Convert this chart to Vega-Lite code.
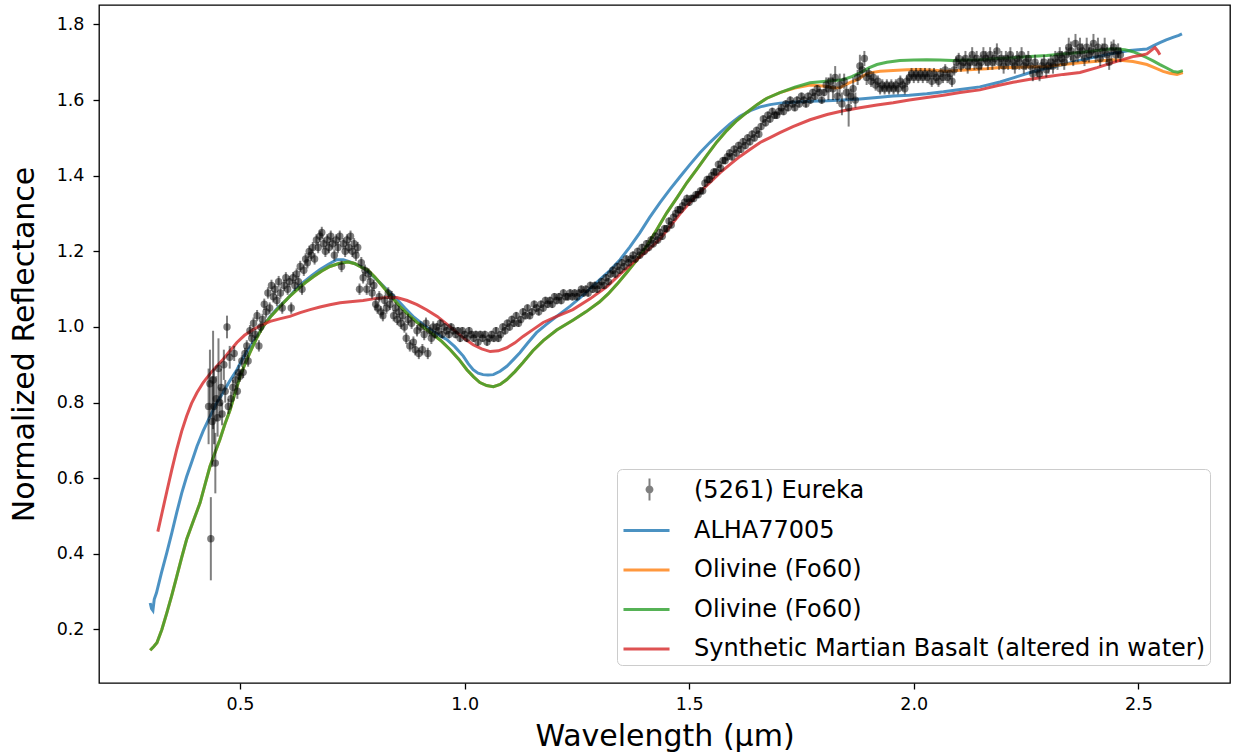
{
  "$schema": "https://vega.github.io/schema/vega-lite/v6.json",
  "width": 1131,
  "height": 678,
  "autosize": {"type": "none"},
  "padding": {"left": 99, "top": 5, "right": 3, "bottom": 72},
  "background": "white",
  "config": {
    "font": "DejaVu Sans",
    "view": {"stroke": "black", "strokeWidth": 1.3},
    "axis": {
      "grid": false,
      "domain": false,
      "tickColor": "black",
      "tickWidth": 1.3,
      "tickSize": 6,
      "labelColor": "black",
      "labelFont": "DejaVu Sans",
      "labelFontSize": 17.5,
      "titleFont": "DejaVu Sans",
      "titleFontSize": 30,
      "titleFontWeight": "normal",
      "titleColor": "black"
    }
  },
  "datasets": {
    "lines": [
      {"s":"ALHA","w":0.300,"r":0.270},{"s":"ALHA","w":0.303,"r":0.255},{"s":"ALHA","w":0.306,"r":0.250},{"s":"ALHA","w":0.309,"r":0.280},{"s":"ALHA","w":0.314,"r":0.297},{"s":"ALHA","w":0.325,"r":0.350},{"s":"ALHA","w":0.337,"r":0.403},{"s":"ALHA","w":0.348,"r":0.455},{"s":"ALHA","w":0.359,"r":0.509},{"s":"ALHA","w":0.370,"r":0.560},{"s":"ALHA","w":0.381,"r":0.604},{"s":"ALHA","w":0.393,"r":0.645},{"s":"ALHA","w":0.404,"r":0.684},{"s":"ALHA","w":0.418,"r":0.725},{"s":"ALHA","w":0.433,"r":0.763},{"s":"ALHA","w":0.447,"r":0.797},{"s":"ALHA","w":0.462,"r":0.826},{"s":"ALHA","w":0.477,"r":0.857},{"s":"ALHA","w":0.493,"r":0.887},{"s":"ALHA","w":0.510,"r":0.925},{"s":"ALHA","w":0.529,"r":0.959},{"s":"ALHA","w":0.548,"r":0.995},{"s":"ALHA","w":0.567,"r":1.028},{"s":"ALHA","w":0.585,"r":1.052},{"s":"ALHA","w":0.604,"r":1.073},{"s":"ALHA","w":0.622,"r":1.097},{"s":"ALHA","w":0.640,"r":1.117},{"s":"ALHA","w":0.660,"r":1.136},{"s":"ALHA","w":0.678,"r":1.152},{"s":"ALHA","w":0.697,"r":1.166},{"s":"ALHA","w":0.715,"r":1.178},{"s":"ALHA","w":0.730,"r":1.178},{"s":"ALHA","w":0.745,"r":1.172},{"s":"ALHA","w":0.760,"r":1.165},{"s":"ALHA","w":0.774,"r":1.157},{"s":"ALHA","w":0.793,"r":1.138},{"s":"ALHA","w":0.812,"r":1.117},{"s":"ALHA","w":0.830,"r":1.095},{"s":"ALHA","w":0.849,"r":1.073},{"s":"ALHA","w":0.867,"r":1.050},{"s":"ALHA","w":0.885,"r":1.028},{"s":"ALHA","w":0.904,"r":1.010},{"s":"ALHA","w":0.923,"r":0.993},{"s":"ALHA","w":0.941,"r":0.980},{"s":"ALHA","w":0.960,"r":0.967},{"s":"ALHA","w":0.978,"r":0.948},{"s":"ALHA","w":0.997,"r":0.923},{"s":"ALHA","w":1.008,"r":0.903},{"s":"ALHA","w":1.019,"r":0.887},{"s":"ALHA","w":1.030,"r":0.878},{"s":"ALHA","w":1.041,"r":0.874},{"s":"ALHA","w":1.052,"r":0.873},{"s":"ALHA","w":1.064,"r":0.874},{"s":"ALHA","w":1.079,"r":0.883},{"s":"ALHA","w":1.094,"r":0.896},{"s":"ALHA","w":1.108,"r":0.913},{"s":"ALHA","w":1.123,"r":0.932},{"s":"ALHA","w":1.140,"r":0.957},{"s":"ALHA","w":1.160,"r":0.985},{"s":"ALHA","w":1.180,"r":1.005},{"s":"ALHA","w":1.205,"r":1.028},{"s":"ALHA","w":1.235,"r":1.055},{"s":"ALHA","w":1.260,"r":1.080},{"s":"ALHA","w":1.301,"r":1.125},{"s":"ALHA","w":1.324,"r":1.150},{"s":"ALHA","w":1.346,"r":1.178},{"s":"ALHA","w":1.368,"r":1.212},{"s":"ALHA","w":1.390,"r":1.249},{"s":"ALHA","w":1.412,"r":1.290},{"s":"ALHA","w":1.435,"r":1.329},{"s":"ALHA","w":1.458,"r":1.365},{"s":"ALHA","w":1.480,"r":1.398},{"s":"ALHA","w":1.502,"r":1.430},{"s":"ALHA","w":1.524,"r":1.461},{"s":"ALHA","w":1.547,"r":1.489},{"s":"ALHA","w":1.569,"r":1.514},{"s":"ALHA","w":1.591,"r":1.537},{"s":"ALHA","w":1.613,"r":1.557},{"s":"ALHA","w":1.636,"r":1.572},{"s":"ALHA","w":1.658,"r":1.582},{"s":"ALHA","w":1.680,"r":1.588},{"s":"ALHA","w":1.702,"r":1.592},{"s":"ALHA","w":1.731,"r":1.594},{"s":"ALHA","w":1.769,"r":1.597},{"s":"ALHA","w":1.807,"r":1.598},{"s":"ALHA","w":1.843,"r":1.600},{"s":"ALHA","w":1.880,"r":1.603},{"s":"ALHA","w":1.918,"r":1.607},{"s":"ALHA","w":1.954,"r":1.611},{"s":"ALHA","w":1.990,"r":1.613},{"s":"ALHA","w":2.029,"r":1.617},{"s":"ALHA","w":2.066,"r":1.622},{"s":"ALHA","w":2.103,"r":1.628},{"s":"ALHA","w":2.147,"r":1.635},{"s":"ALHA","w":2.192,"r":1.648},{"s":"ALHA","w":2.225,"r":1.660},{"s":"ALHA","w":2.259,"r":1.673},{"s":"ALHA","w":2.296,"r":1.684},{"s":"ALHA","w":2.333,"r":1.694},{"s":"ALHA","w":2.370,"r":1.705},{"s":"ALHA","w":2.408,"r":1.715},{"s":"ALHA","w":2.445,"r":1.724},{"s":"ALHA","w":2.481,"r":1.731},{"s":"ALHA","w":2.500,"r":1.733},{"s":"ALHA","w":2.519,"r":1.735},{"s":"ALHA","w":2.534,"r":1.744},{"s":"ALHA","w":2.548,"r":1.752},{"s":"ALHA","w":2.562,"r":1.759},{"s":"ALHA","w":2.577,"r":1.766},{"s":"ALHA","w":2.590,"r":1.771},{"s":"ALHA","w":2.597,"r":1.775},
      {"s":"Oliv1","w":0.300,"r":0.145},{"s":"Oliv1","w":0.308,"r":0.155},{"s":"Oliv1","w":0.315,"r":0.165},{"s":"Oliv1","w":0.326,"r":0.200},{"s":"Oliv1","w":0.337,"r":0.244},{"s":"Oliv1","w":0.348,"r":0.290},{"s":"Oliv1","w":0.359,"r":0.340},{"s":"Oliv1","w":0.370,"r":0.390},{"s":"Oliv1","w":0.381,"r":0.438},{"s":"Oliv1","w":0.396,"r":0.487},{"s":"Oliv1","w":0.411,"r":0.535},{"s":"Oliv1","w":0.422,"r":0.583},{"s":"Oliv1","w":0.433,"r":0.631},{"s":"Oliv1","w":0.444,"r":0.667},{"s":"Oliv1","w":0.455,"r":0.702},{"s":"Oliv1","w":0.466,"r":0.742},{"s":"Oliv1","w":0.478,"r":0.781},{"s":"Oliv1","w":0.489,"r":0.826},{"s":"Oliv1","w":0.500,"r":0.869},{"s":"Oliv1","w":0.511,"r":0.902},{"s":"Oliv1","w":0.522,"r":0.932},{"s":"Oliv1","w":0.536,"r":0.968},{"s":"Oliv1","w":0.551,"r":1.001},{"s":"Oliv1","w":0.570,"r":1.030},{"s":"Oliv1","w":0.589,"r":1.054},{"s":"Oliv1","w":0.608,"r":1.078},{"s":"Oliv1","w":0.627,"r":1.099},{"s":"Oliv1","w":0.645,"r":1.117},{"s":"Oliv1","w":0.663,"r":1.133},{"s":"Oliv1","w":0.682,"r":1.148},{"s":"Oliv1","w":0.700,"r":1.160},{"s":"Oliv1","w":0.720,"r":1.168},{"s":"Oliv1","w":0.740,"r":1.172},{"s":"Oliv1","w":0.755,"r":1.168},{"s":"Oliv1","w":0.770,"r":1.158},{"s":"Oliv1","w":0.785,"r":1.150},{"s":"Oliv1","w":0.800,"r":1.132},{"s":"Oliv1","w":0.818,"r":1.107},{"s":"Oliv1","w":0.837,"r":1.080},{"s":"Oliv1","w":0.856,"r":1.054},{"s":"Oliv1","w":0.875,"r":1.032},{"s":"Oliv1","w":0.894,"r":1.012},{"s":"Oliv1","w":0.912,"r":0.996},{"s":"Oliv1","w":0.930,"r":0.980},{"s":"Oliv1","w":0.949,"r":0.962},{"s":"Oliv1","w":0.968,"r":0.940},{"s":"Oliv1","w":0.987,"r":0.915},{"s":"Oliv1","w":1.005,"r":0.887},{"s":"Oliv1","w":1.020,"r":0.868},{"s":"Oliv1","w":1.034,"r":0.853},{"s":"Oliv1","w":1.049,"r":0.845},{"s":"Oliv1","w":1.064,"r":0.842},{"s":"Oliv1","w":1.079,"r":0.848},{"s":"Oliv1","w":1.094,"r":0.861},{"s":"Oliv1","w":1.112,"r":0.882},{"s":"Oliv1","w":1.130,"r":0.906},{"s":"Oliv1","w":1.152,"r":0.937},{"s":"Oliv1","w":1.175,"r":0.964},{"s":"Oliv1","w":1.205,"r":0.992},{"s":"Oliv1","w":1.241,"r":1.018},{"s":"Oliv1","w":1.270,"r":1.040},{"s":"Oliv1","w":1.300,"r":1.066},{"s":"Oliv1","w":1.320,"r":1.088},{"s":"Oliv1","w":1.340,"r":1.114},{"s":"Oliv1","w":1.361,"r":1.144},{"s":"Oliv1","w":1.384,"r":1.178},{"s":"Oliv1","w":1.406,"r":1.215},{"s":"Oliv1","w":1.428,"r":1.258},{"s":"Oliv1","w":1.450,"r":1.302},{"s":"Oliv1","w":1.473,"r":1.342},{"s":"Oliv1","w":1.495,"r":1.382},{"s":"Oliv1","w":1.518,"r":1.419},{"s":"Oliv1","w":1.540,"r":1.455},{"s":"Oliv1","w":1.562,"r":1.490},{"s":"Oliv1","w":1.584,"r":1.520},{"s":"Oliv1","w":1.606,"r":1.546},{"s":"Oliv1","w":1.629,"r":1.568},{"s":"Oliv1","w":1.651,"r":1.588},{"s":"Oliv1","w":1.673,"r":1.605},{"s":"Oliv1","w":1.702,"r":1.620},{"s":"Oliv1","w":1.735,"r":1.632},{"s":"Oliv1","w":1.769,"r":1.640},{"s":"Oliv1","w":1.790,"r":1.638},{"s":"Oliv1","w":1.807,"r":1.636},{"s":"Oliv1","w":1.822,"r":1.632},{"s":"Oliv1","w":1.836,"r":1.633},{"s":"Oliv1","w":1.855,"r":1.645},{"s":"Oliv1","w":1.874,"r":1.654},{"s":"Oliv1","w":1.890,"r":1.666},{"s":"Oliv1","w":1.902,"r":1.672},{"s":"Oliv1","w":1.925,"r":1.676},{"s":"Oliv1","w":1.954,"r":1.678},{"s":"Oliv1","w":1.985,"r":1.680},{"s":"Oliv1","w":2.014,"r":1.681},{"s":"Oliv1","w":2.045,"r":1.679},{"s":"Oliv1","w":2.074,"r":1.676},{"s":"Oliv1","w":2.103,"r":1.679},{"s":"Oliv1","w":2.132,"r":1.681},{"s":"Oliv1","w":2.162,"r":1.683},{"s":"Oliv1","w":2.192,"r":1.686},{"s":"Oliv1","w":2.221,"r":1.686},{"s":"Oliv1","w":2.259,"r":1.688},{"s":"Oliv1","w":2.296,"r":1.689},{"s":"Oliv1","w":2.333,"r":1.694},{"s":"Oliv1","w":2.370,"r":1.699},{"s":"Oliv1","w":2.408,"r":1.703},{"s":"Oliv1","w":2.443,"r":1.707},{"s":"Oliv1","w":2.465,"r":1.705},{"s":"Oliv1","w":2.488,"r":1.702},{"s":"Oliv1","w":2.504,"r":1.698},{"s":"Oliv1","w":2.519,"r":1.694},{"s":"Oliv1","w":2.537,"r":1.685},{"s":"Oliv1","w":2.555,"r":1.676},{"s":"Oliv1","w":2.570,"r":1.671},{"s":"Oliv1","w":2.586,"r":1.668},{"s":"Oliv1","w":2.599,"r":1.673},
      {"s":"Oliv2","w":0.300,"r":0.145},{"s":"Oliv2","w":0.308,"r":0.155},{"s":"Oliv2","w":0.315,"r":0.165},{"s":"Oliv2","w":0.326,"r":0.200},{"s":"Oliv2","w":0.337,"r":0.244},{"s":"Oliv2","w":0.348,"r":0.290},{"s":"Oliv2","w":0.359,"r":0.340},{"s":"Oliv2","w":0.370,"r":0.390},{"s":"Oliv2","w":0.381,"r":0.438},{"s":"Oliv2","w":0.396,"r":0.487},{"s":"Oliv2","w":0.411,"r":0.535},{"s":"Oliv2","w":0.422,"r":0.583},{"s":"Oliv2","w":0.433,"r":0.631},{"s":"Oliv2","w":0.444,"r":0.667},{"s":"Oliv2","w":0.455,"r":0.702},{"s":"Oliv2","w":0.466,"r":0.742},{"s":"Oliv2","w":0.478,"r":0.781},{"s":"Oliv2","w":0.489,"r":0.826},{"s":"Oliv2","w":0.500,"r":0.869},{"s":"Oliv2","w":0.511,"r":0.902},{"s":"Oliv2","w":0.522,"r":0.932},{"s":"Oliv2","w":0.536,"r":0.968},{"s":"Oliv2","w":0.551,"r":1.001},{"s":"Oliv2","w":0.570,"r":1.030},{"s":"Oliv2","w":0.589,"r":1.054},{"s":"Oliv2","w":0.608,"r":1.078},{"s":"Oliv2","w":0.627,"r":1.099},{"s":"Oliv2","w":0.645,"r":1.117},{"s":"Oliv2","w":0.663,"r":1.133},{"s":"Oliv2","w":0.682,"r":1.148},{"s":"Oliv2","w":0.700,"r":1.160},{"s":"Oliv2","w":0.720,"r":1.168},{"s":"Oliv2","w":0.740,"r":1.172},{"s":"Oliv2","w":0.755,"r":1.168},{"s":"Oliv2","w":0.770,"r":1.158},{"s":"Oliv2","w":0.785,"r":1.150},{"s":"Oliv2","w":0.800,"r":1.132},{"s":"Oliv2","w":0.818,"r":1.107},{"s":"Oliv2","w":0.837,"r":1.080},{"s":"Oliv2","w":0.856,"r":1.054},{"s":"Oliv2","w":0.875,"r":1.032},{"s":"Oliv2","w":0.894,"r":1.012},{"s":"Oliv2","w":0.912,"r":0.996},{"s":"Oliv2","w":0.930,"r":0.980},{"s":"Oliv2","w":0.949,"r":0.962},{"s":"Oliv2","w":0.968,"r":0.940},{"s":"Oliv2","w":0.987,"r":0.915},{"s":"Oliv2","w":1.005,"r":0.887},{"s":"Oliv2","w":1.020,"r":0.868},{"s":"Oliv2","w":1.034,"r":0.853},{"s":"Oliv2","w":1.049,"r":0.845},{"s":"Oliv2","w":1.064,"r":0.842},{"s":"Oliv2","w":1.079,"r":0.848},{"s":"Oliv2","w":1.094,"r":0.861},{"s":"Oliv2","w":1.112,"r":0.882},{"s":"Oliv2","w":1.130,"r":0.906},{"s":"Oliv2","w":1.152,"r":0.937},{"s":"Oliv2","w":1.175,"r":0.964},{"s":"Oliv2","w":1.205,"r":0.992},{"s":"Oliv2","w":1.241,"r":1.018},{"s":"Oliv2","w":1.270,"r":1.040},{"s":"Oliv2","w":1.300,"r":1.066},{"s":"Oliv2","w":1.320,"r":1.088},{"s":"Oliv2","w":1.340,"r":1.114},{"s":"Oliv2","w":1.361,"r":1.144},{"s":"Oliv2","w":1.384,"r":1.178},{"s":"Oliv2","w":1.406,"r":1.215},{"s":"Oliv2","w":1.428,"r":1.258},{"s":"Oliv2","w":1.450,"r":1.302},{"s":"Oliv2","w":1.473,"r":1.342},{"s":"Oliv2","w":1.495,"r":1.382},{"s":"Oliv2","w":1.518,"r":1.419},{"s":"Oliv2","w":1.540,"r":1.455},{"s":"Oliv2","w":1.562,"r":1.490},{"s":"Oliv2","w":1.584,"r":1.520},{"s":"Oliv2","w":1.606,"r":1.546},{"s":"Oliv2","w":1.629,"r":1.568},{"s":"Oliv2","w":1.651,"r":1.588},{"s":"Oliv2","w":1.673,"r":1.605},{"s":"Oliv2","w":1.702,"r":1.620},{"s":"Oliv2","w":1.735,"r":1.634},{"s":"Oliv2","w":1.769,"r":1.646},{"s":"Oliv2","w":1.805,"r":1.650},{"s":"Oliv2","w":1.842,"r":1.654},{"s":"Oliv2","w":1.862,"r":1.662},{"s":"Oliv2","w":1.880,"r":1.672},{"s":"Oliv2","w":1.900,"r":1.685},{"s":"Oliv2","w":1.918,"r":1.694},{"s":"Oliv2","w":1.940,"r":1.700},{"s":"Oliv2","w":1.969,"r":1.705},{"s":"Oliv2","w":2.000,"r":1.706},{"s":"Oliv2","w":2.029,"r":1.707},{"s":"Oliv2","w":2.058,"r":1.706},{"s":"Oliv2","w":2.087,"r":1.705},{"s":"Oliv2","w":2.115,"r":1.706},{"s":"Oliv2","w":2.147,"r":1.707},{"s":"Oliv2","w":2.185,"r":1.710},{"s":"Oliv2","w":2.221,"r":1.712},{"s":"Oliv2","w":2.259,"r":1.715},{"s":"Oliv2","w":2.296,"r":1.718},{"s":"Oliv2","w":2.333,"r":1.722},{"s":"Oliv2","w":2.370,"r":1.726},{"s":"Oliv2","w":2.408,"r":1.731},{"s":"Oliv2","w":2.443,"r":1.736},{"s":"Oliv2","w":2.470,"r":1.733},{"s":"Oliv2","w":2.488,"r":1.728},{"s":"Oliv2","w":2.504,"r":1.720},{"s":"Oliv2","w":2.519,"r":1.712},{"s":"Oliv2","w":2.534,"r":1.703},{"s":"Oliv2","w":2.548,"r":1.694},{"s":"Oliv2","w":2.563,"r":1.685},{"s":"Oliv2","w":2.577,"r":1.676},{"s":"Oliv2","w":2.588,"r":1.674},{"s":"Oliv2","w":2.599,"r":1.678},
      {"s":"Basalt","w":0.317,"r":0.459},{"s":"Basalt","w":0.327,"r":0.512},{"s":"Basalt","w":0.337,"r":0.565},{"s":"Basalt","w":0.348,"r":0.622},{"s":"Basalt","w":0.359,"r":0.676},{"s":"Basalt","w":0.370,"r":0.724},{"s":"Basalt","w":0.381,"r":0.764},{"s":"Basalt","w":0.392,"r":0.798},{"s":"Basalt","w":0.404,"r":0.826},{"s":"Basalt","w":0.418,"r":0.853},{"s":"Basalt","w":0.433,"r":0.876},{"s":"Basalt","w":0.447,"r":0.895},{"s":"Basalt","w":0.462,"r":0.914},{"s":"Basalt","w":0.477,"r":0.936},{"s":"Basalt","w":0.493,"r":0.959},{"s":"Basalt","w":0.510,"r":0.978},{"s":"Basalt","w":0.529,"r":0.993},{"s":"Basalt","w":0.548,"r":1.005},{"s":"Basalt","w":0.567,"r":1.015},{"s":"Basalt","w":0.590,"r":1.022},{"s":"Basalt","w":0.611,"r":1.028},{"s":"Basalt","w":0.634,"r":1.038},{"s":"Basalt","w":0.656,"r":1.046},{"s":"Basalt","w":0.678,"r":1.053},{"s":"Basalt","w":0.700,"r":1.059},{"s":"Basalt","w":0.723,"r":1.064},{"s":"Basalt","w":0.745,"r":1.067},{"s":"Basalt","w":0.774,"r":1.070},{"s":"Basalt","w":0.800,"r":1.075},{"s":"Basalt","w":0.825,"r":1.078},{"s":"Basalt","w":0.849,"r":1.078},{"s":"Basalt","w":0.872,"r":1.070},{"s":"Basalt","w":0.894,"r":1.059},{"s":"Basalt","w":0.916,"r":1.045},{"s":"Basalt","w":0.939,"r":1.028},{"s":"Basalt","w":0.961,"r":1.007},{"s":"Basalt","w":0.983,"r":0.985},{"s":"Basalt","w":1.001,"r":0.968},{"s":"Basalt","w":1.019,"r":0.953},{"s":"Basalt","w":1.038,"r":0.942},{"s":"Basalt","w":1.057,"r":0.935},{"s":"Basalt","w":1.075,"r":0.937},{"s":"Basalt","w":1.094,"r":0.945},{"s":"Basalt","w":1.112,"r":0.958},{"s":"Basalt","w":1.130,"r":0.975},{"s":"Basalt","w":1.152,"r":0.993},{"s":"Basalt","w":1.175,"r":1.012},{"s":"Basalt","w":1.205,"r":1.028},{"s":"Basalt","w":1.241,"r":1.046},{"s":"Basalt","w":1.280,"r":1.075},{"s":"Basalt","w":1.317,"r":1.107},{"s":"Basalt","w":1.346,"r":1.140},{"s":"Basalt","w":1.375,"r":1.170},{"s":"Basalt","w":1.405,"r":1.200},{"s":"Basalt","w":1.435,"r":1.233},{"s":"Basalt","w":1.458,"r":1.267},{"s":"Basalt","w":1.480,"r":1.300},{"s":"Basalt","w":1.502,"r":1.330},{"s":"Basalt","w":1.524,"r":1.357},{"s":"Basalt","w":1.547,"r":1.383},{"s":"Basalt","w":1.569,"r":1.408},{"s":"Basalt","w":1.591,"r":1.430},{"s":"Basalt","w":1.613,"r":1.451},{"s":"Basalt","w":1.636,"r":1.470},{"s":"Basalt","w":1.658,"r":1.488},{"s":"Basalt","w":1.680,"r":1.501},{"s":"Basalt","w":1.702,"r":1.514},{"s":"Basalt","w":1.731,"r":1.530},{"s":"Basalt","w":1.769,"r":1.548},{"s":"Basalt","w":1.807,"r":1.562},{"s":"Basalt","w":1.843,"r":1.572},{"s":"Basalt","w":1.880,"r":1.580},{"s":"Basalt","w":1.918,"r":1.587},{"s":"Basalt","w":1.954,"r":1.593},{"s":"Basalt","w":1.990,"r":1.600},{"s":"Basalt","w":2.029,"r":1.607},{"s":"Basalt","w":2.066,"r":1.613},{"s":"Basalt","w":2.103,"r":1.620},{"s":"Basalt","w":2.147,"r":1.627},{"s":"Basalt","w":2.185,"r":1.638},{"s":"Basalt","w":2.221,"r":1.647},{"s":"Basalt","w":2.259,"r":1.655},{"s":"Basalt","w":2.296,"r":1.662},{"s":"Basalt","w":2.333,"r":1.668},{"s":"Basalt","w":2.370,"r":1.673},{"s":"Basalt","w":2.408,"r":1.686},{"s":"Basalt","w":2.443,"r":1.699},{"s":"Basalt","w":2.465,"r":1.707},{"s":"Basalt","w":2.488,"r":1.715},{"s":"Basalt","w":2.504,"r":1.718},{"s":"Basalt","w":2.519,"r":1.722},{"s":"Basalt","w":2.530,"r":1.733},{"s":"Basalt","w":2.537,"r":1.739},{"s":"Basalt","w":2.543,"r":1.730},{"s":"Basalt","w":2.548,"r":1.720}
    ],
    "pts": [
      {"w":0.430,"r":0.79,"e":0.10},{"w":0.433,"r":0.85,"e":0.09},{"w":0.435,"r":0.44,"e":0.11},{"w":0.438,"r":0.75,"e":0.12},{"w":0.440,"r":0.86,"e":0.13},{"w":0.442,"r":0.79,"e":0.10},{"w":0.445,"r":0.64,"e":0.08},{"w":0.447,"r":0.81,"e":0.06},{"w":0.450,"r":0.76,"e":0.05},{"w":0.452,"r":0.89,"e":0.08},{"w":0.455,"r":0.80,"e":0.04},{"w":0.458,"r":0.84,"e":0.05},{"w":0.460,"r":0.77,"e":0.03},{"w":0.464,"r":0.90,"e":0.04},{"w":0.467,"r":0.83,"e":0.03},{"w":0.471,"r":1.00,"e":0.03},{"w":0.474,"r":0.79,"e":0.02},{"w":0.477,"r":0.92,"e":0.03},{"w":0.480,"r":0.81,"e":0.02},{"w":0.484,"r":0.84,"e":0.02},{"w":0.487,"r":0.93,"e":0.02},{"w":0.490,"r":0.86,"e":0.02},{"w":0.494,"r":0.83,"e":0.02},{"w":0.497,"r":0.88,"e":0.02},
      {"w":0.500,"r":0.87,"e":0.015},{"w":0.504,"r":0.91,"e":0.015},{"w":0.507,"r":0.88,"e":0.015},{"w":0.511,"r":0.93,"e":0.015},{"w":0.515,"r":0.95,"e":0.015},{"w":0.518,"r":0.91,"e":0.015},{"w":0.522,"r":0.99,"e":0.015},{"w":0.526,"r":0.97,"e":0.015},{"w":0.530,"r":1.01,"e":0.015},{"w":0.534,"r":0.98,"e":0.015},{"w":0.538,"r":1.03,"e":0.015},{"w":0.542,"r":0.95,"e":0.015},{"w":0.546,"r":1.00,"e":0.015},{"w":0.550,"r":1.02,"e":0.015},{"w":0.554,"r":1.06,"e":0.015},{"w":0.558,"r":1.04,"e":0.015},{"w":0.562,"r":1.09,"e":0.015},{"w":0.566,"r":1.05,"e":0.015},{"w":0.570,"r":1.11,"e":0.015},{"w":0.574,"r":1.08,"e":0.015},{"w":0.578,"r":1.10,"e":0.015},{"w":0.582,"r":1.07,"e":0.015},{"w":0.586,"r":1.12,"e":0.015},{"w":0.590,"r":1.09,"e":0.015},{"w":0.594,"r":1.05,"e":0.015},{"w":0.598,"r":1.11,"e":0.015},{"w":0.602,"r":1.13,"e":0.015},{"w":0.606,"r":1.10,"e":0.015},{"w":0.610,"r":1.12,"e":0.015},{"w":0.614,"r":1.05,"e":0.015},{"w":0.618,"r":1.13,"e":0.015},{"w":0.622,"r":1.11,"e":0.015},{"w":0.626,"r":1.14,"e":0.015},{"w":0.630,"r":1.12,"e":0.015},{"w":0.634,"r":1.16,"e":0.015},{"w":0.638,"r":1.10,"e":0.015},{"w":0.642,"r":1.15,"e":0.015},{"w":0.646,"r":1.18,"e":0.015},{"w":0.650,"r":1.17,"e":0.015},{"w":0.654,"r":1.20,"e":0.015},{"w":0.658,"r":1.19,"e":0.015},{"w":0.662,"r":1.21,"e":0.015},{"w":0.666,"r":1.18,"e":0.015},{"w":0.670,"r":1.23,"e":0.015},{"w":0.674,"r":1.21,"e":0.015},{"w":0.678,"r":1.24,"e":0.015},{"w":0.682,"r":1.25,"e":0.015},{"w":0.686,"r":1.22,"e":0.015},{"w":0.690,"r":1.20,"e":0.015},{"w":0.694,"r":1.23,"e":0.015},{"w":0.698,"r":1.21,"e":0.015},{"w":0.702,"r":1.24,"e":0.015},{"w":0.706,"r":1.22,"e":0.015},{"w":0.710,"r":1.19,"e":0.015},{"w":0.714,"r":1.23,"e":0.015},{"w":0.718,"r":1.21,"e":0.015},{"w":0.722,"r":1.24,"e":0.015},{"w":0.726,"r":1.16,"e":0.015},{"w":0.730,"r":1.22,"e":0.015},{"w":0.734,"r":1.20,"e":0.015},{"w":0.738,"r":1.23,"e":0.015},{"w":0.742,"r":1.21,"e":0.015},{"w":0.746,"r":1.24,"e":0.015},{"w":0.750,"r":1.20,"e":0.015},{"w":0.754,"r":1.22,"e":0.015},{"w":0.758,"r":1.19,"e":0.015},{"w":0.762,"r":1.21,"e":0.015},{"w":0.766,"r":1.10,"e":0.015},{"w":0.770,"r":1.17,"e":0.015},{"w":0.774,"r":1.13,"e":0.015},{"w":0.778,"r":1.15,"e":0.015},{"w":0.782,"r":1.10,"e":0.015},{"w":0.786,"r":1.14,"e":0.015},{"w":0.790,"r":1.12,"e":0.015},{"w":0.794,"r":1.09,"e":0.015},{"w":0.798,"r":1.11,"e":0.015},{"w":0.802,"r":1.06,"e":0.015},{"w":0.806,"r":1.05,"e":0.015},{"w":0.810,"r":1.08,"e":0.015},{"w":0.814,"r":1.04,"e":0.015},{"w":0.818,"r":1.03,"e":0.015},{"w":0.822,"r":1.07,"e":0.015},{"w":0.826,"r":1.05,"e":0.015},{"w":0.830,"r":1.09,"e":0.015},{"w":0.834,"r":1.06,"e":0.015},{"w":0.838,"r":1.08,"e":0.015},{"w":0.842,"r":1.03,"e":0.015},{"w":0.846,"r":1.05,"e":0.015},{"w":0.850,"r":1.02,"e":0.015},{"w":0.854,"r":1.04,"e":0.015},{"w":0.858,"r":1.01,"e":0.015},{"w":0.862,"r":1.03,"e":0.015},{"w":0.866,"r":1.00,"e":0.015},{"w":0.870,"r":0.97,"e":0.015},{"w":0.874,"r":1.02,"e":0.015},{"w":0.878,"r":0.95,"e":0.015},{"w":0.882,"r":1.01,"e":0.015},{"w":0.886,"r":0.96,"e":0.015},{"w":0.890,"r":0.94,"e":0.015},{"w":0.894,"r":0.99,"e":0.015},{"w":0.898,"r":0.93,"e":0.015},{"w":0.902,"r":1.00,"e":0.015},{"w":0.906,"r":0.94,"e":0.015},{"w":0.910,"r":0.98,"e":0.015},{"w":0.914,"r":1.01,"e":0.015},{"w":0.918,"r":0.93,"e":0.015},{"w":0.922,"r":0.99,"e":0.015},{"w":0.926,"r":0.97,"e":0.015},{"w":0.930,"r":1.00,"e":0.015},{"w":0.934,"r":0.98,"e":0.01},{"w":0.938,"r":1.00,"e":0.01},{"w":0.942,"r":0.99,"e":0.01},{"w":0.946,"r":1.01,"e":0.01},{"w":0.950,"r":0.98,"e":0.01},{"w":0.955,"r":1.00,"e":0.01},{"w":0.960,"r":0.99,"e":0.01},{"w":0.965,"r":0.98,"e":0.01},{"w":0.970,"r":1.00,"e":0.01},{"w":0.975,"r":0.99,"e":0.01},{"w":0.980,"r":0.98,"e":0.01},{"w":0.985,"r":0.99,"e":0.01},{"w":0.990,"r":0.97,"e":0.01},{"w":0.995,"r":0.99,"e":0.01},{"w":1.000,"r":0.98,"e":0.01},{"w":1.005,"r":0.97,"e":0.01},{"w":1.010,"r":0.99,"e":0.01},{"w":1.015,"r":0.98,"e":0.01},{"w":1.020,"r":0.97,"e":0.01},{"w":1.025,"r":0.98,"e":0.01},{"w":1.030,"r":0.96,"e":0.01},{"w":1.035,"r":0.98,"e":0.01},{"w":1.040,"r":0.97,"e":0.01},{"w":1.045,"r":0.98,"e":0.01},{"w":1.050,"r":0.96,"e":0.01},{"w":1.055,"r":0.97,"e":0.01},{"w":1.060,"r":0.98,"e":0.01},{"w":1.065,"r":0.97,"e":0.01},{"w":1.070,"r":0.99,"e":0.01},{"w":1.075,"r":0.97,"e":0.01},{"w":1.080,"r":0.98,"e":0.01},{"w":1.085,"r":1.00,"e":0.01},{"w":1.090,"r":0.99,"e":0.01},{"w":1.095,"r":1.01,"e":0.01},{"w":1.100,"r":1.00,"e":0.01},{"w":1.105,"r":1.02,"e":0.01},{"w":1.110,"r":1.01,"e":0.01},{"w":1.115,"r":1.03,"e":0.01},{"w":1.120,"r":1.01,"e":0.01},{"w":1.125,"r":1.02,"e":0.01},{"w":1.130,"r":1.04,"e":0.01},{"w":1.135,"r":1.03,"e":0.01},{"w":1.140,"r":1.05,"e":0.01},{"w":1.145,"r":1.03,"e":0.01},{"w":1.150,"r":1.04,"e":0.01},{"w":1.155,"r":1.06,"e":0.01},{"w":1.160,"r":1.05,"e":0.01},{"w":1.165,"r":1.04,"e":0.01},{"w":1.170,"r":1.06,"e":0.01},{"w":1.175,"r":1.05,"e":0.01},{"w":1.180,"r":1.07,"e":0.01},{"w":1.185,"r":1.06,"e":0.01},{"w":1.190,"r":1.07,"e":0.01},{"w":1.195,"r":1.06,"e":0.01},{"w":1.200,"r":1.08,"e":0.01},{"w":1.205,"r":1.07,"e":0.01},{"w":1.210,"r":1.08,"e":0.01},{"w":1.215,"r":1.07,"e":0.01},{"w":1.220,"r":1.09,"e":0.01},{"w":1.225,"r":1.08,"e":0.01},{"w":1.230,"r":1.08,"e":0.01},{"w":1.235,"r":1.09,"e":0.01},{"w":1.240,"r":1.08,"e":0.01},{"w":1.245,"r":1.09,"e":0.01},{"w":1.250,"r":1.08,"e":0.01},{"w":1.255,"r":1.09,"e":0.01},{"w":1.260,"r":1.10,"e":0.01},{"w":1.265,"r":1.09,"e":0.01},{"w":1.270,"r":1.10,"e":0.01},{"w":1.275,"r":1.09,"e":0.01},{"w":1.280,"r":1.11,"e":0.01},{"w":1.285,"r":1.10,"e":0.01},{"w":1.290,"r":1.11,"e":0.01},{"w":1.295,"r":1.10,"e":0.01},{"w":1.300,"r":1.11,"e":0.01},{"w":1.305,"r":1.12,"e":0.01},{"w":1.310,"r":1.11,"e":0.01},{"w":1.315,"r":1.13,"e":0.01},{"w":1.320,"r":1.12,"e":0.01},{"w":1.325,"r":1.14,"e":0.01},{"w":1.330,"r":1.15,"e":0.01},{"w":1.335,"r":1.14,"e":0.01},{"w":1.340,"r":1.16,"e":0.01},{"w":1.345,"r":1.15,"e":0.01},{"w":1.350,"r":1.17,"e":0.01},{"w":1.355,"r":1.16,"e":0.01},{"w":1.360,"r":1.18,"e":0.01},{"w":1.365,"r":1.17,"e":0.01},{"w":1.370,"r":1.18,"e":0.01},{"w":1.375,"r":1.19,"e":0.01},{"w":1.380,"r":1.18,"e":0.01},{"w":1.385,"r":1.20,"e":0.01},{"w":1.390,"r":1.19,"e":0.01},{"w":1.395,"r":1.21,"e":0.01},{"w":1.400,"r":1.20,"e":0.01},{"w":1.405,"r":1.22,"e":0.01},{"w":1.410,"r":1.21,"e":0.01},{"w":1.415,"r":1.23,"e":0.01},{"w":1.420,"r":1.22,"e":0.01},{"w":1.425,"r":1.24,"e":0.01},{"w":1.430,"r":1.23,"e":0.01},{"w":1.435,"r":1.25,"e":0.01},{"w":1.440,"r":1.24,"e":0.01},{"w":1.445,"r":1.26,"e":0.01},{"w":1.450,"r":1.26,"e":0.01},{"w":1.455,"r":1.28,"e":0.01},{"w":1.460,"r":1.27,"e":0.01},{"w":1.465,"r":1.29,"e":0.01},{"w":1.470,"r":1.30,"e":0.01},{"w":1.475,"r":1.31,"e":0.01},{"w":1.480,"r":1.31,"e":0.01},{"w":1.485,"r":1.32,"e":0.01},{"w":1.490,"r":1.33,"e":0.01},{"w":1.495,"r":1.34,"e":0.01},{"w":1.500,"r":1.33,"e":0.01},{"w":1.505,"r":1.34,"e":0.01},{"w":1.510,"r":1.34,"e":0.01},{"w":1.515,"r":1.35,"e":0.01},{"w":1.520,"r":1.35,"e":0.01},{"w":1.525,"r":1.36,"e":0.01},{"w":1.530,"r":1.36,"e":0.01},{"w":1.535,"r":1.38,"e":0.01},{"w":1.540,"r":1.39,"e":0.01},{"w":1.545,"r":1.39,"e":0.01},{"w":1.550,"r":1.40,"e":0.01},{"w":1.555,"r":1.41,"e":0.01},{"w":1.560,"r":1.41,"e":0.01},{"w":1.565,"r":1.43,"e":0.01},{"w":1.570,"r":1.42,"e":0.01},{"w":1.575,"r":1.44,"e":0.01},{"w":1.580,"r":1.44,"e":0.01},{"w":1.585,"r":1.45,"e":0.01},{"w":1.590,"r":1.46,"e":0.01},{"w":1.595,"r":1.45,"e":0.01},{"w":1.600,"r":1.47,"e":0.01},{"w":1.605,"r":1.46,"e":0.01},{"w":1.610,"r":1.48,"e":0.01},{"w":1.615,"r":1.47,"e":0.01},{"w":1.620,"r":1.49,"e":0.01},{"w":1.625,"r":1.48,"e":0.01},{"w":1.630,"r":1.50,"e":0.01},{"w":1.635,"r":1.49,"e":0.01},{"w":1.640,"r":1.51,"e":0.01},{"w":1.645,"r":1.50,"e":0.01},{"w":1.650,"r":1.52,"e":0.01},{"w":1.655,"r":1.51,"e":0.01},{"w":1.660,"r":1.53,"e":0.01},{"w":1.665,"r":1.55,"e":0.01},{"w":1.670,"r":1.54,"e":0.01},{"w":1.675,"r":1.56,"e":0.01},{"w":1.680,"r":1.55,"e":0.01},{"w":1.685,"r":1.57,"e":0.01},{"w":1.690,"r":1.56,"e":0.01},{"w":1.695,"r":1.56,"e":0.01},{"w":1.700,"r":1.57,"e":0.01},{"w":1.705,"r":1.58,"e":0.01},{"w":1.710,"r":1.57,"e":0.01},{"w":1.715,"r":1.59,"e":0.01},{"w":1.720,"r":1.58,"e":0.01},{"w":1.725,"r":1.60,"e":0.01},{"w":1.730,"r":1.59,"e":0.01},{"w":1.735,"r":1.58,"e":0.01},{"w":1.740,"r":1.60,"e":0.01},{"w":1.745,"r":1.59,"e":0.01},{"w":1.750,"r":1.61,"e":0.01},{"w":1.755,"r":1.60,"e":0.01},{"w":1.760,"r":1.59,"e":0.01},{"w":1.765,"r":1.61,"e":0.01},{"w":1.770,"r":1.60,"e":0.01},{"w":1.775,"r":1.62,"e":0.01},{"w":1.780,"r":1.61,"e":0.01},{"w":1.785,"r":1.63,"e":0.01},{"w":1.790,"r":1.62,"e":0.01},{"w":1.795,"r":1.60,"e":0.01},{"w":1.800,"r":1.62,"e":0.01},{"w":1.805,"r":1.64,"e":0.02},{"w":1.810,"r":1.63,"e":0.03},{"w":1.815,"r":1.65,"e":0.02},{"w":1.820,"r":1.63,"e":0.03},{"w":1.825,"r":1.66,"e":0.03},{"w":1.830,"r":1.61,"e":0.02},{"w":1.835,"r":1.64,"e":0.03},{"w":1.840,"r":1.59,"e":0.03},{"w":1.845,"r":1.65,"e":0.02},{"w":1.850,"r":1.62,"e":0.02},{"w":1.855,"r":1.58,"e":0.05},{"w":1.860,"r":1.61,"e":0.02},{"w":1.865,"r":1.63,"e":0.03},{"w":1.870,"r":1.60,"e":0.02},{"w":1.875,"r":1.66,"e":0.02},{"w":1.880,"r":1.69,"e":0.03},{"w":1.885,"r":1.68,"e":0.02},{"w":1.890,"r":1.71,"e":0.02},{"w":1.895,"r":1.66,"e":0.02},{"w":1.900,"r":1.67,"e":0.015},{"w":1.905,"r":1.65,"e":0.015},{"w":1.910,"r":1.66,"e":0.015},{"w":1.915,"r":1.64,"e":0.015},{"w":1.920,"r":1.65,"e":0.015},{"w":1.925,"r":1.63,"e":0.015},{"w":1.930,"r":1.64,"e":0.015},{"w":1.935,"r":1.63,"e":0.015},{"w":1.940,"r":1.64,"e":0.015},{"w":1.945,"r":1.63,"e":0.015},{"w":1.950,"r":1.64,"e":0.015},{"w":1.955,"r":1.63,"e":0.015},{"w":1.960,"r":1.64,"e":0.015},{"w":1.965,"r":1.63,"e":0.015},{"w":1.970,"r":1.65,"e":0.015},{"w":1.975,"r":1.64,"e":0.015},{"w":1.980,"r":1.63,"e":0.015},{"w":1.985,"r":1.65,"e":0.015},{"w":1.990,"r":1.66,"e":0.015},{"w":1.995,"r":1.67,"e":0.015},{"w":2.000,"r":1.66,"e":0.015},{"w":2.005,"r":1.67,"e":0.015},{"w":2.010,"r":1.66,"e":0.015},{"w":2.015,"r":1.67,"e":0.015},{"w":2.020,"r":1.66,"e":0.015},{"w":2.025,"r":1.67,"e":0.015},{"w":2.030,"r":1.66,"e":0.015},{"w":2.035,"r":1.67,"e":0.015},{"w":2.040,"r":1.65,"e":0.015},{"w":2.045,"r":1.67,"e":0.015},{"w":2.050,"r":1.66,"e":0.015},{"w":2.055,"r":1.65,"e":0.015},{"w":2.060,"r":1.67,"e":0.015},{"w":2.065,"r":1.66,"e":0.015},{"w":2.070,"r":1.68,"e":0.015},{"w":2.075,"r":1.66,"e":0.015},{"w":2.080,"r":1.67,"e":0.015},{"w":2.085,"r":1.65,"e":0.015},{"w":2.090,"r":1.68,"e":0.015},{"w":2.095,"r":1.70,"e":0.015},{"w":2.100,"r":1.71,"e":0.015},{"w":2.105,"r":1.69,"e":0.015},{"w":2.110,"r":1.70,"e":0.015},{"w":2.115,"r":1.71,"e":0.02},{"w":2.120,"r":1.69,"e":0.02},{"w":2.125,"r":1.70,"e":0.02},{"w":2.130,"r":1.72,"e":0.02},{"w":2.135,"r":1.70,"e":0.02},{"w":2.140,"r":1.71,"e":0.02},{"w":2.145,"r":1.69,"e":0.02},{"w":2.150,"r":1.70,"e":0.02},{"w":2.155,"r":1.72,"e":0.02},{"w":2.160,"r":1.71,"e":0.02},{"w":2.165,"r":1.70,"e":0.02},{"w":2.170,"r":1.72,"e":0.02},{"w":2.175,"r":1.70,"e":0.02},{"w":2.180,"r":1.71,"e":0.02},{"w":2.185,"r":1.73,"e":0.02},{"w":2.190,"r":1.70,"e":0.02},{"w":2.195,"r":1.71,"e":0.02},{"w":2.200,"r":1.69,"e":0.02},{"w":2.205,"r":1.71,"e":0.02},{"w":2.210,"r":1.70,"e":0.02},{"w":2.215,"r":1.72,"e":0.02},{"w":2.220,"r":1.70,"e":0.02},{"w":2.225,"r":1.69,"e":0.02},{"w":2.230,"r":1.71,"e":0.02},{"w":2.235,"r":1.70,"e":0.02},{"w":2.240,"r":1.72,"e":0.02},{"w":2.245,"r":1.69,"e":0.02},{"w":2.250,"r":1.70,"e":0.02},{"w":2.255,"r":1.71,"e":0.02},{"w":2.260,"r":1.69,"e":0.02},{"w":2.265,"r":1.67,"e":0.02},{"w":2.270,"r":1.70,"e":0.02},{"w":2.275,"r":1.68,"e":0.02},{"w":2.280,"r":1.67,"e":0.02},{"w":2.285,"r":1.69,"e":0.02},{"w":2.290,"r":1.70,"e":0.02},{"w":2.295,"r":1.68,"e":0.02},{"w":2.300,"r":1.69,"e":0.02},{"w":2.305,"r":1.70,"e":0.02},{"w":2.310,"r":1.69,"e":0.02},{"w":2.315,"r":1.71,"e":0.02},{"w":2.320,"r":1.70,"e":0.02},{"w":2.325,"r":1.72,"e":0.02},{"w":2.330,"r":1.71,"e":0.02},{"w":2.335,"r":1.70,"e":0.02},{"w":2.340,"r":1.72,"e":0.02},{"w":2.345,"r":1.74,"e":0.025},{"w":2.350,"r":1.73,"e":0.025},{"w":2.355,"r":1.71,"e":0.02},{"w":2.360,"r":1.75,"e":0.025},{"w":2.365,"r":1.72,"e":0.02},{"w":2.370,"r":1.74,"e":0.025},{"w":2.375,"r":1.73,"e":0.02},{"w":2.380,"r":1.71,"e":0.02},{"w":2.385,"r":1.74,"e":0.025},{"w":2.390,"r":1.72,"e":0.02},{"w":2.395,"r":1.73,"e":0.02},{"w":2.400,"r":1.75,"e":0.025},{"w":2.405,"r":1.72,"e":0.02},{"w":2.410,"r":1.74,"e":0.025},{"w":2.415,"r":1.71,"e":0.02},{"w":2.420,"r":1.73,"e":0.02},{"w":2.425,"r":1.74,"e":0.025},{"w":2.430,"r":1.72,"e":0.02},{"w":2.435,"r":1.70,"e":0.02},{"w":2.440,"r":1.73,"e":0.025},{"w":2.445,"r":1.74,"e":0.02},{"w":2.450,"r":1.72,"e":0.02},{"w":2.455,"r":1.73,"e":0.02},{"w":2.460,"r":1.72,"e":0.02}
    ]
  },
  "encoding": {
    "x": {
      "field": "w", "type": "quantitative", "title": "Wavelength (µm)",
      "scale": {"domain": [0.186, 2.704], "nice": false, "zero": false},
      "axis": {"values": [0.5, 1.0, 1.5, 2.0, 2.5], "format": ".1f", "labelPadding": 6, "titlePadding": 9, "labelFlush": false}
    },
    "y": {
      "field": "r", "type": "quantitative", "title": "Normalized Reflectance",
      "scale": {"domain": [0.0585, 1.8515], "nice": false, "zero": false},
      "axis": {"values": [0.2, 0.4, 0.6, 0.8, 1.0, 1.2, 1.4, 1.6, 1.8], "format": ".1f", "labelPadding": 9, "titlePadding": 17, "labelFlush": false}
    }
  },
  "layer": [
    {
      "data": {"name": "lines"},
      "mark": {"type": "line", "strokeWidth": 3, "opacity": 0.8, "clip": true},
      "encoding": {
        "color": {
          "field": "s", "type": "nominal",
          "scale": {
            "domain": ["Eureka", "ALHA", "Oliv1", "Oliv2", "Basalt"],
            "range": ["rgba(0,0,0,0)", "#1f77b4", "#ff7f0e", "#2ca02c", "#d62728"]
          },
          "legend": {
            "orient": "none",
            "legendX": 518,
            "legendY": 464,
            "title": null,
            "labelFont": "DejaVu Sans",
            "labelFontSize": 24,
            "labelColor": "black",
            "labelLimit": 0,
            "symbolType": "M-0.94,0L1.85,0",
            "symbolSize": 1089,
            "symbolStrokeWidth": 3,
            "symbolOpacity": 0.8,
            "rowPadding": 9.5,
            "labelOffset": 37,
            "padding": 4,
            "strokeColor": "#cccccc",
            "fillColor": "rgba(255,255,255,0.8)",
            "cornerRadius": 5,
            "zindex": 0,
            "labelExpr": "{'Eureka':'(5261) Eureka','ALHA':'ALHA77005','Oliv1':'Olivine (Fo60)','Oliv2':'Olivine (Fo60)','Basalt':'Synthetic Martian Basalt (altered in water)'}[datum.value]"
          }
        }
      }
    },
    {
      "data": {"name": "pts"},
      "mark": {"type": "errorbar", "color": "#000000", "opacity": 0.5, "thickness": 2},
      "encoding": {
        "yError": {"field": "e"}
      }
    },
    {
      "data": {"name": "pts"},
      "mark": {"type": "point", "filled": true, "color": "#000000", "size": 55},
      "encoding": {
        "opacity": {
          "datum": "Eureka", "type": "nominal",
          "scale": {"range": [0.5, 0.5]},
          "legend": {
            "orient": "none",
            "legendX": 534,
            "legendY": 468,
            "title": null,
            "symbolType": "M-0.06,-0.67L0.06,-0.67L0.06,0.67L-0.06,0.67Z M-0.24,0A0.24,0.24,0,1,1,0.24,0A0.24,0.24,0,1,1,-0.24,0Z",
            "symbolSize": 1089,
            "symbolFillColor": "#000000",
            "symbolStrokeColor": "#000000",
            "symbolStrokeWidth": 0,
            "symbolOpacity": 0.65,
            "labelExpr": "''",
            "padding": 0,
            "zindex": 1
          }
        }
      }
    }
  ]
}
